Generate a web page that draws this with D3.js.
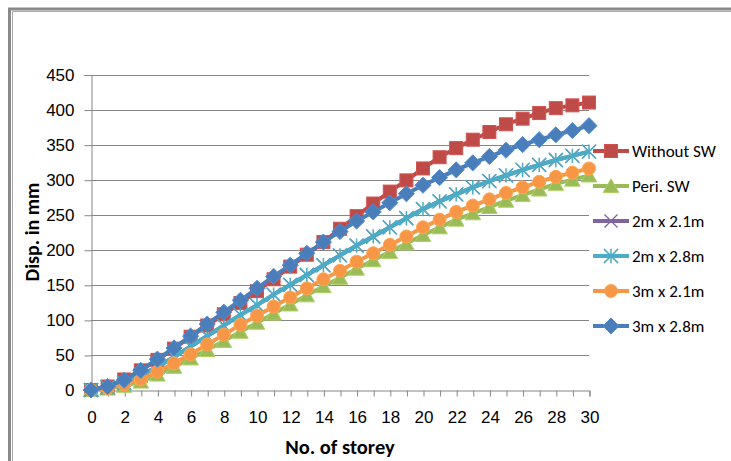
<!DOCTYPE html>
<html><head><meta charset="utf-8">
<script src="https://cdn.jsdelivr.net/npm/d3@7"></script>
<style>
html,body{margin:0;padding:0;background:#fff;}
svg{display:block;font-family:Carlito,Calibri,Lato,"Liberation Sans",sans-serif;}
</style></head>
<body>
<svg id="chart" width="731" height="461"></svg>
<script>
const storeys = d3.range(0, 31);
const withoutSW = [0,5,15,28,43,59,76,92,108,124,141,158,176,193,211,230,248,266,283,299,316,332,345,357,368,379,387,395,402,406,410];
const periSW    = [0,2,6,12,22,33,45,57,70,83,96,109,122,135,148,160,173,185,197,209,221,232,243,252,261,270,278,286,294,300,306];
const s2x21     = [0,4,10,21,33,47,62,77,92,107,121,136,150,164,178,192,206,219,232,245,258,269,279,289,298,306,314,321,328,334,340];
const s2x28     = [0,4,10,21,33,47,62,77,92,107,121,136,150,164,178,192,206,219,232,245,258,269,279,289,298,306,314,321,328,334,340];
const s3x21     = [0,3,8,15,26,38,51,65,79,93,106,119,132,145,158,170,183,195,207,219,232,243,254,263,272,281,289,297,304,310,316];
const s3x28     = [0,5,14,28,44,60,77,94,111,128,145,162,178,195,211,226,241,254,267,280,292,303,314,324,333,342,350,357,364,370,377];
const seriesNames = ["Without SW","Peri. SW","2m x 2.1m","2m x 2.8m","3m x 2.1m","3m x 2.8m"];
const seriesColors = ["#BE4B48","#9BBB59","#8064A2","#4BACC6","#F79646","#4A7EBB"];
const seriesMarkers = ["square","triangle","x","star","circle","diamond"];
const seriesValues = [withoutSW, periSW, s2x21, s2x28, s3x21, s3x28];
const xTicks = d3.range(0, 31, 2);
const yTicks = d3.range(0, 451, 50);
const xTitle = "No. of storey";
const yTitle = "Disp. in mm";

const svg = d3.select("#chart");
// frame
svg.append("path").attr("d","M9.5,461 V9 H731").attr("fill","none").attr("stroke","#8a8a8a").attr("stroke-width",3);
svg.append("path").attr("d","M12.5,461 V11.5 H731").attr("fill","none").attr("stroke","#a8a8a8").attr("stroke-width",1);

const x = d3.scaleLinear().domain([0,30]).range([91,589]);
const y = d3.scaleLinear().domain([0,450]).range([390,74.5]);
const axisColor = "#868686";

// gridlines
svg.append("g").selectAll("line").data(yTicks.filter(d=>d>0)).join("line")
  .attr("x1",x(0)).attr("x2",x(30)).attr("y1",d=>Math.round(y(d))+0.5).attr("y2",d=>Math.round(y(d))+0.5)
  .attr("stroke",axisColor).attr("stroke-width",1);

// y axis
const yAxis = d3.axisLeft(y).tickValues(yTicks).tickSize(7).tickPadding(10).tickFormat(d3.format("d"));
const gy = svg.append("g").attr("transform",`translate(${x(0)+0.5},0.5)`).call(yAxis);
gy.select(".domain").attr("stroke",axisColor);
gy.selectAll(".tick line").attr("stroke",axisColor);
gy.selectAll(".tick text").attr("font-size",17).attr("fill","#000").attr("font-family",null);

// x axis
const xAxis = d3.axisBottom(x).tickValues(d3.range(0,31)).tickSize(6).tickPadding(14)
  .tickFormat(d => xTicks.includes(d) ? d : "");
const gx = svg.append("g").attr("transform",`translate(0.5,${Math.round(y(0))+0.5})`).call(xAxis);
gx.select(".domain").attr("stroke",axisColor);
gx.selectAll(".tick line").attr("stroke",axisColor);
gx.selectAll(".tick text").attr("font-size",17).attr("fill","#000").attr("font-family",null);

// titles
svg.append("text").attr("x",340).attr("y",454).attr("text-anchor","middle")
  .attr("font-size",20.5).attr("font-weight","bold").text(xTitle);
svg.append("text").attr("transform","translate(39,232) rotate(-90)").attr("text-anchor","middle")
  .attr("font-size",20).attr("font-weight","bold").text(yTitle);

function marker(g, type, color, size) {
  const s = size;
  if (type === "square") {
    g.append("rect").attr("x",-s/2).attr("y",-s/2).attr("width",s).attr("height",s)
      .attr("fill",color).attr("stroke",d3.color(color).brighter(0.3)).attr("stroke-width",1);
  } else if (type === "triangle") {
    g.append("path").attr("d",`M0,${-s*0.55} L${s*0.6},${s*0.5} L${-s*0.6},${s*0.5} Z`)
      .attr("fill",color).attr("stroke",d3.color(color).brighter(0.3)).attr("stroke-width",1);
  } else if (type === "circle") {
    g.append("circle").attr("r",s/2).attr("fill",color).attr("stroke",d3.color(color).brighter(0.3)).attr("stroke-width",1);
  } else if (type === "diamond") {
    g.append("path").attr("d",`M0,${-s*0.62} L${s*0.62},0 L0,${s*0.62} L${-s*0.62},0 Z`)
      .attr("fill",color).attr("stroke",d3.color(color).brighter(0.3)).attr("stroke-width",1);
  } else if (type === "x") {
    const h = s*0.5;
    g.append("path").attr("d",`M${-h},${-h} L${h},${h} M${-h},${h} L${h},${-h}`)
      .attr("stroke",color).attr("stroke-width",1.3).attr("fill","none");
  } else if (type === "star") {
    const h = s*0.55;
    g.append("path").attr("d",`M${-h},${-h} L${h},${h} M${-h},${h} L${h},${-h} M0,${-h} L0,${h}`)
      .attr("stroke",color).attr("stroke-width",1.5).attr("fill","none");
  }
}

const line = d3.line().x((d,i)=>x(storeys[i])).y(d=>y(d));
seriesValues.forEach((vals, si) => {
  const g = svg.append("g");
  g.append("path").datum(vals).attr("d",line).attr("fill","none")
    .attr("stroke",seriesColors[si]).attr("stroke-width",4).attr("stroke-linejoin","round");
  vals.forEach((v,i) => {
    const mg = g.append("g").attr("transform",`translate(${x(storeys[i])},${y(v)})`);
    marker(mg, seriesMarkers[si], seriesColors[si], 13);
  });
});

// legend
const lg = svg.append("g");
seriesNames.forEach((name, i) => {
  const ly = 151 + i*35;
  lg.append("line").attr("x1",593).attr("x2",629).attr("y1",ly).attr("y2",ly)
    .attr("stroke",seriesColors[i]).attr("stroke-width",4);
  const mg = lg.append("g").attr("transform",`translate(611,${ly})`);
  marker(mg, seriesMarkers[i], seriesColors[i], 13);
  lg.append("text").attr("x",632).attr("y",ly).attr("dy","0.35em").attr("font-size",17).text(name);
});
</script>
</body></html>
